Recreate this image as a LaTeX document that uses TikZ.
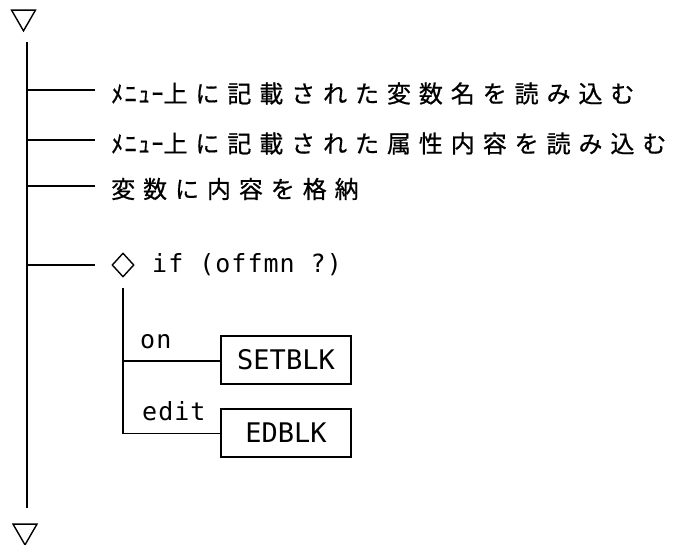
\documentclass[tikz,border=0pt]{standalone}
\usepackage{fontspec}
\usetikzlibrary{shapes.geometric}
\newfontfamily\jpfull[LetterSpace=33,FakeBold=0.6]{Noto Sans CJK JP}
\newfontfamily\jphalf[LetterSpace=6,FakeBold=0.6]{Noto Sans CJK JP}
\newfontfamily\latmono[LetterSpace=4]{DejaVu Sans Mono}
\newfontfamily\blkmono{DejaVu Sans Mono}
\newcommand\jpsize{\fontsize{24}{29}\selectfont}
\newcommand\latsize{\fontsize{25}{30}\selectfont}
\newcommand\blksize{\fontsize{27}{32}\selectfont}
\begin{document}
\begin{tikzpicture}[x=1pt,y=-1pt,
  line/.style={line width=1.6pt},
  jptext/.style={anchor=west, inner xsep=16pt, inner ysep=0pt, font=\jpsize\jpfull},
  lattext/.style={anchor=base west, inner sep=0pt, font=\latsize\latmono},
  tri/.style={draw, line width=1.4pt, regular polygon, regular polygon sides=3,
    shape border rotate=180, minimum size=27.7pt, inner sep=0pt},
  dia/.style={draw, diamond, line width=1.4pt, minimum width=22pt, minimum height=24pt, inner sep=0pt},
  blk/.style={draw, line width=1.6pt, minimum width=130pt, minimum height=48pt, inner sep=0pt,
    font=\blksize\blkmono}]
\useasboundingbox[fill=white] (0,0) rectangle (684,545);
% start / end marks
\node[tri] (ttop) at (23.5,17) {};
\node[tri] (tbot) at (25,531) {};
% spine
\coordinate (spt) at (27,42);
\coordinate (spb) at (27,508);
\draw[line] (spt) -- (spb);
% branches
\coordinate (b1) at (27,90);
\coordinate (b2) at (27,140);
\coordinate (b3) at (27,186);
\coordinate (b4) at (27,265);
\node[jptext] (t1) at (95,93.5) {\jphalf ﾒﾆｭｰ\jpfull 上に記載された変数名を読み込む};
\node[jptext] (t2) at (95,143.5) {\jphalf ﾒﾆｭｰ\jpfull 上に記載された属性内容を読み込む};
\node[jptext] (t3) at (95,189) {変数に内容を格納};
\draw[line] (b1) -- (b1 -| t1.west);
\draw[line] (b2) -- (b2 -| t2.west);
\draw[line] (b3) -- (b3 -| t3.west);
% if
\node[dia] (dg) at (123,265) {};
\draw[line, shorten >=16pt] (b4) -- (dg.west);
\node[lattext] (ift) at (152,272) {if (offmn ?)};
% sub branches
\coordinate (son) at (123,361);
\coordinate (sb) at (123,433.5);
\draw[line, shorten <=10pt] (dg.south) -- (sb);
\node[blk] (setblk) at (286,360) {SETBLK};
\node[blk] (edblk) at (286,433) {EDBLK};
\draw[line] (son) -- (son -| setblk.west);
\draw[line] (sb) -- (sb -| edblk.west);
\node[lattext] (lon) at (140,348) {on};
\node[lattext] (ledit) at (142,420) {edit};
\end{tikzpicture}
\end{document}
